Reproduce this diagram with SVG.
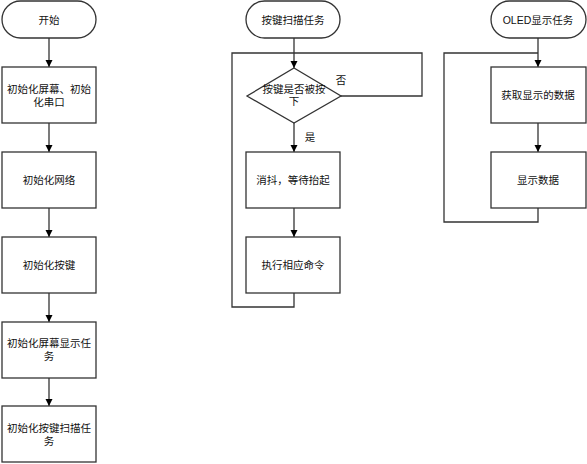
<svg xmlns="http://www.w3.org/2000/svg" width="587" height="464" viewBox="0 0 587 464">
<defs>
<marker id="ah" markerWidth="8" markerHeight="8" refX="7" refY="4" orient="auto" markerUnits="userSpaceOnUse">
<path d="M0,0.5 L7,4 L0,7.5 Z" fill="#000"/>
</marker>
<style>
.n{fill:#fff;stroke:#333;stroke-width:1.3}
.t{font-family:"Liberation Sans","Noto Sans CJK SC",sans-serif;font-size:10.5px;fill:#111;text-anchor:middle}
.c{fill:none;stroke:#333;stroke-width:1.3}
.a{marker-end:url(#ah)}
</style>
</defs>
<g id="connectors">
<path class="c a" d="M49,38 V67"/>
<path class="c a" d="M49,123 V152"/>
<path class="c a" d="M49,208 V237"/>
<path class="c a" d="M49,293 V322"/>
<path class="c a" d="M49,378 V406"/>
<path class="c a" d="M294,38 V68"/>
<path class="c" d="M341,96 H422 V53 H232 V307 H294 V293"/>
<path class="c a" d="M294,123 V152"/>
<path class="c a" d="M294,208 V237"/>
<path class="c a" d="M538,38 V67"/>
<path class="c a" d="M538,123 V152"/>
<path class="c" d="M538,208 V222 H444 V53 H538"/>
<text class="t" x="341" y="84">否</text>
<text class="t" x="310" y="141">是</text>
</g>
<g id="start">
<rect class="n" x="2" y="1" width="94" height="37" rx="18.5"/>
<text class="t" x="49" y="23.5">开始</text>
</g>
<g id="init1">
<rect class="n" x="2" y="67" width="94" height="56"/>
<text class="t" x="49" y="93">初始化屏幕、初始</text>
<text class="t" x="49" y="106">化串口</text>
</g>
<g id="init2">
<rect class="n" x="2" y="152" width="94" height="56"/>
<text class="t" x="49" y="184">初始化网络</text>
</g>
<g id="init3">
<rect class="n" x="2" y="237" width="94" height="56"/>
<text class="t" x="49" y="269">初始化按键</text>
</g>
<g id="init4">
<rect class="n" x="2" y="322" width="94" height="56"/>
<text class="t" x="49" y="347">初始化屏幕显示任</text>
<text class="t" x="49" y="360">务</text>
</g>
<g id="init5">
<rect class="n" x="2" y="406" width="94" height="56"/>
<text class="t" x="49" y="432">初始化按键扫描任</text>
<text class="t" x="49" y="445">务</text>
</g>
<g id="keytask">
<rect class="n" x="246" y="1" width="94" height="37" rx="18.5"/>
<text class="t" x="293" y="23.5">按键扫描任务</text>
</g>
<g id="decision">
<polygon class="n" points="294,68 341,96 294,123 247,96"/>
<text class="t" x="294" y="93">按键是否被按</text>
<text class="t" x="294" y="105">下</text>
</g>
<g id="debounce">
<rect class="n" x="246" y="152" width="94" height="56"/>
<text class="t" x="293" y="184">消抖，等待抬起</text>
</g>
<g id="execute">
<rect class="n" x="246" y="237" width="94" height="56"/>
<text class="t" x="293" y="269">执行相应命令</text>
</g>
<g id="oledtask">
<rect class="n" x="491" y="1" width="95" height="37" rx="18.5"/>
<text class="t" x="538" y="23.5">OLED显示任务</text>
</g>
<g id="getdata">
<rect class="n" x="491" y="67" width="95" height="56"/>
<text class="t" x="538" y="99">获取显示的数据</text>
</g>
<g id="showdata">
<rect class="n" x="491" y="152" width="95" height="56"/>
<text class="t" x="538" y="184">显示数据</text>
</g>
</svg>
